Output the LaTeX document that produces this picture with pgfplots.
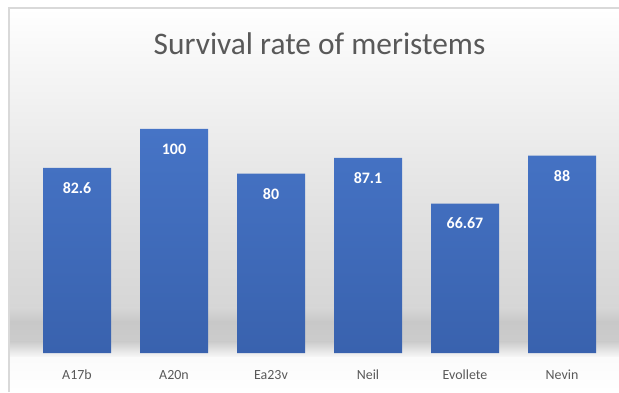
\documentclass[border=0pt]{standalone}
\usepackage{fontspec}
\setmainfont{Carlito}
\usepackage{pgfplots}
\pgfplotsset{compat=1.18}
\definecolor{barT}{HTML}{4674C6}
\definecolor{barB}{HTML}{3962AE}
\definecolor{txt}{HTML}{595959}
\definecolor{g1}{HTML}{F7F7F7}
\definecolor{g2}{HTML}{E0E0E0}
\definecolor{g3}{HTML}{D6D6D6}
\definecolor{g4}{HTML}{C8C8C8}
\definecolor{g5}{HTML}{CCCCCC}
\definecolor{g6}{HTML}{FBFBFB}
\definecolor{frame}{HTML}{D9D9D9}
\begin{document}
\begin{tikzpicture}[x=1bp,y=1bp]
\useasboundingbox (0,0) rectangle (619,392);
\fill[white] (0,0) rectangle (619,392);
\shade[top color=white,bottom color=g1,draw=none] (9,332) rectangle (619,384);
\shade[top color=g1,bottom color=g2,draw=none] (9,172) rectangle (619,332.3);
\shade[top color=g2,bottom color=g3,draw=none] (9,84) rectangle (619,172.3);
\shade[top color=g3,bottom color=g4,draw=none] (9,70) rectangle (619,84.3);
\shade[top color=g4,bottom color=g5,draw=none] (9,50) rectangle (619,70.3);
\shade[top color=g5,bottom color=g6,draw=none] (9,34) rectangle (619,50.3);
\shade[top color=g6,bottom color=white,draw=none] (9,0) rectangle (619,34.3);
\draw[frame,line width=1.5bp] (9,0) -- (9,384) -- (619,384);
\node[text=txt,font=\fontsize{31.5}{36}\selectfont] at (319.5,348) {Survival rate of meristems};
\begin{axis}[
  at={(77bp,39bp)}, anchor=origin,
  scale only axis, width=582bp, height=269bp,
  xmin=-0.5, xmax=5.5, ymin=0, ymax=120,
  axis line style={draw=none},
  ytick=\empty,
  xtick=data,
  xticklabels={A17b,A20n,Ea23v,Neil,Evollete,Nevin},
  major tick length=0pt,
  xticklabel style={anchor=center, yshift=-22bp, text=txt, font=\fontsize{14}{16}\selectfont},
  ybar, bar width=68bp,
  nodes near coords,
  point meta=explicit symbolic,
  every node near coord/.append style={anchor=center, yshift=-20bp, text=white, font=\fontsize{16}{18}\selectfont\bfseries},
  clip=false,
]
\addplot[draw=none, top color=barT, bottom color=barB] table[meta=lab] {
x y lab
0 82.6 82.6
1 100 100
2 80 80
3 87.1 87.1
4 66.67 66.67
5 88 88
};
\end{axis}
\end{tikzpicture}
\end{document}
